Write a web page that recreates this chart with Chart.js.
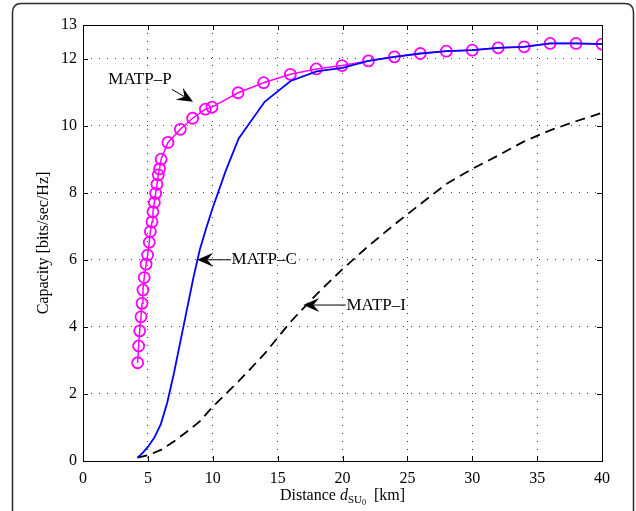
<!DOCTYPE html>
<html><head><meta charset="utf-8">
<script src="https://cdn.jsdelivr.net/npm/chart.js@4/dist/chart.umd.min.js"></script>
<style>html,body{margin:0;padding:0;background:#fff;overflow:hidden}#wrap{width:636px;height:511px;position:relative;overflow:hidden}canvas{display:block}</style>
</head><body><div id="wrap"><canvas id="c" width="636" height="511"></canvas></div>
<script>
// ---- data ----
const xTicks = [0,5,10,15,20,25,30,35,40];
const yTicks = [0,2,4,6,8,10,12,13];

const cDist = [4.2,4.6,5.0,5.5,6.0,6.5,7.0,7.5,8.0,8.5,9.0,9.5,10,11,12,14,16,18,20,22,24,26,28,30,32,34,36,38,40];
const cCap  = [0.1,0.24,0.42,0.7,1.1,1.75,2.6,3.55,4.5,5.45,6.3,6.95,7.55,8.65,9.62,10.71,11.33,11.62,11.72,11.93,12.05,12.15,12.22,12.25,12.32,12.35,12.45,12.45,12.43];

const pDist = [4.21,4.29,4.37,4.47,4.55,4.62,4.72,4.86,4.98,5.11,5.19,5.32,5.39,5.5,5.6,5.7,5.8,5.9,6.02,6.55,7.5,8.45,9.43,9.94,11.95,13.92,15.98,17.98,19.96,22,24,26,28,30,32,34,36,38,40];
const pCap  = [2.93,3.43,3.88,4.30,4.70,5.10,5.47,5.87,6.14,6.52,6.84,7.13,7.43,7.71,7.98,8.25,8.53,8.71,9.0,9.5,9.89,10.22,10.49,10.55,10.98,11.28,11.53,11.69,11.79,11.93,12.05,12.15,12.22,12.25,12.32,12.35,12.45,12.45,12.43];

const iDist = [4.2,5,6,7,8,9,10,12,14,16,18,20,22,24,26,28,30,32,34,36,38,40];
const iCap  = [0.1,0.17,0.33,0.58,0.87,1.18,1.62,2.38,3.2,4.15,4.97,5.72,6.41,7.05,7.66,8.26,8.71,9.11,9.53,9.86,10.13,10.38];

const seriesNames = ['MATP\u2013C','MATP\u2013P','MATP\u2013I'];

const pts = (xs, ys) => xs.map((x,i)=>({x:x, y:ys[i]}));
const FONT = '"Liberation Serif", "Times New Roman", serif';

// annotations (data coords)
const notes = [
  {text: seriesNames[1], tx: 1.95, ty: 11.36, from:[6.86,11.08], to:[8.48,10.71]},
  {text: seriesNames[0], tx: 11.45, ty: 6.0, from:[11.4,6.0], to:[8.8,6.0]},
  {text: seriesNames[2], tx: 20.3, ty: 4.65, from:[20.25,4.65], to:[16.98,4.65]}
];

const decor = {
  id: 'decor',
  beforeDraw(chart){
    const ctx = chart.ctx;
    ctx.save();
    ctx.fillStyle = '#fff';
    ctx.fillRect(0,0,chart.width,chart.height);
    ctx.strokeStyle = '#2a2a2a';
    ctx.lineWidth = 1.5;
    const x0=12.5, y0=3.5, x1=633.5, y1=chart.height+60, r=9;
    ctx.beginPath();
    ctx.moveTo(x0, y1);
    ctx.lineTo(x0, y0+r);
    ctx.quadraticCurveTo(x0, y0, x0+r, y0);
    ctx.lineTo(x1-r, y0);
    ctx.quadraticCurveTo(x1, y0, x1, y0+r);
    ctx.lineTo(x1, y1);
    ctx.stroke();
    ctx.restore();
  },
  afterDraw(chart){
    const ctx = chart.ctx, a = chart.chartArea;
    const xs = chart.scales.x, ys = chart.scales.y;
    ctx.save();
    // box
    ctx.strokeStyle = '#000';
    ctx.lineWidth = 1;
    ctx.strokeRect(Math.round(a.left)+0.5, Math.round(a.top)+0.5, Math.round(a.right-a.left), Math.round(a.bottom-a.top));
    // inward ticks
    const tl = 5;
    ctx.beginPath();
    xTicks.forEach(v=>{
      const px = Math.round(xs.getPixelForValue(v))+0.5;
      ctx.moveTo(px, a.bottom); ctx.lineTo(px, a.bottom-tl);
      ctx.moveTo(px, a.top); ctx.lineTo(px, a.top+tl);
    });
    yTicks.forEach(v=>{
      const py = Math.round(ys.getPixelForValue(v))+0.5;
      ctx.moveTo(a.left, py); ctx.lineTo(a.left+tl, py);
      ctx.moveTo(a.right, py); ctx.lineTo(a.right-tl, py);
    });
    ctx.stroke();

    // annotations
    notes.forEach(n=>{
      const fx = xs.getPixelForValue(n.from[0]), fy = ys.getPixelForValue(n.from[1]);
      const tx = xs.getPixelForValue(n.to[0]), ty = ys.getPixelForValue(n.to[1]);
      const ang = Math.atan2(ty-fy, tx-fx);
      const L = 16, W = 7, N = 10;
      const bx = tx - L*Math.cos(ang), by = ty - L*Math.sin(ang);
      ctx.strokeStyle = '#000'; ctx.lineWidth = 1;
      ctx.beginPath(); ctx.moveTo(fx, fy); ctx.lineTo(tx - N*Math.cos(ang), ty - N*Math.sin(ang)); ctx.stroke();
      ctx.fillStyle = '#000';
      ctx.beginPath();
      ctx.moveTo(tx, ty);
      ctx.lineTo(bx - W*Math.sin(ang), by + W*Math.cos(ang));
      ctx.lineTo(tx - N*Math.cos(ang), ty - N*Math.sin(ang));
      ctx.lineTo(bx + W*Math.sin(ang), by - W*Math.cos(ang));
      ctx.closePath(); ctx.fill();
      ctx.font = '17px ' + FONT;
      ctx.textBaseline = 'middle'; ctx.textAlign = 'left';
      ctx.fillText(n.text, xs.getPixelForValue(n.tx), ys.getPixelForValue(n.ty));
    });

    // y title
    ctx.fillStyle = '#000';
    ctx.font = '16px ' + FONT;
    ctx.save();
    ctx.translate(44, (a.top+a.bottom)/2);
    ctx.rotate(-Math.PI/2);
    ctx.textAlign = 'center'; ctx.textBaseline = 'middle';
    ctx.fillText('Capacity [bits/sec/Hz]', 0, 0);
    ctx.restore();

    // x title with subscripts
    const parts = [
      {t:'Distance ', f:'16px '+FONT, dy:0},
      {t:'d', f:'italic 16px '+FONT, dy:0},
      {t:'SU', f:'11px '+FONT, dy:3},
      {t:'0', f:'8px '+FONT, dy:5},
      {t:'  [km]', f:'16px '+FONT, dy:0}
    ];
    let tw = 0;
    parts.forEach(p=>{ ctx.font = p.f; p.w = ctx.measureText(p.t).width; tw += p.w; });
    let cx = (a.left + a.right)/2 - tw/2;
    const base = 500;
    ctx.textAlign = 'left'; ctx.textBaseline = 'alphabetic';
    parts.forEach(p=>{ ctx.font = p.f; ctx.fillText(p.t, cx, base + p.dy); cx += p.w; });
    ctx.restore();
  }
};

const gridCommon = {color:'rgba(0,0,0,0.75)', lineWidth:1, drawTicks:false};

new Chart(document.getElementById('c'), {
  type: 'line',
  data: {
    datasets: [
      {label: seriesNames[0], data: pts(cDist,cCap), borderColor:'#0000ff', borderWidth:1.8, pointRadius:0, tension:0, fill:false, order:0},
      {label: seriesNames[1], data: pts(pDist,pCap), borderColor:'#ff00ff', borderWidth:1.5, pointRadius:5.5, pointStyle:'circle',
        pointBorderColor:'#ff00ff', pointBackgroundColor:'rgba(0,0,0,0)', pointBorderWidth:1.8, tension:0, fill:false, order:1},
      {label: seriesNames[2], data: pts(iDist,iCap), borderColor:'#000', borderWidth:1.8, borderDash:[10,6], pointRadius:0, tension:0, fill:false, order:2}
    ]
  },
  options: {
    responsive:false, animation:false, devicePixelRatio:1,
    layout: {padding:{left:0, top:25, right:34, bottom:0}},
    plugins: {legend:{display:false}, tooltip:{enabled:false}},
    scales: {
      x: {type:'linear', min:0, max:40,
        afterBuildTicks: s => { s.ticks = xTicks.map(v=>({value:v})); },
        afterFit: s => { s.height = 50; },
        grid: gridCommon,
        border: {display:false, dash:[1,7]},
        ticks: {font:{family:FONT, size:16}, color:'#000', padding:8, maxRotation:0}
      },
      y: {type:'linear', min:0, max:13,
        afterBuildTicks: s => { s.ticks = yTicks.map(v=>({value:v})); },
        afterFit: s => { s.width = 83; },
        grid: gridCommon,
        border: {display:false, dash:[1,7]},
        ticks: {font:{family:FONT, size:16}, color:'#000', padding:6}
      }
    }
  },
  plugins: [decor]
});
</script>
</body></html>
